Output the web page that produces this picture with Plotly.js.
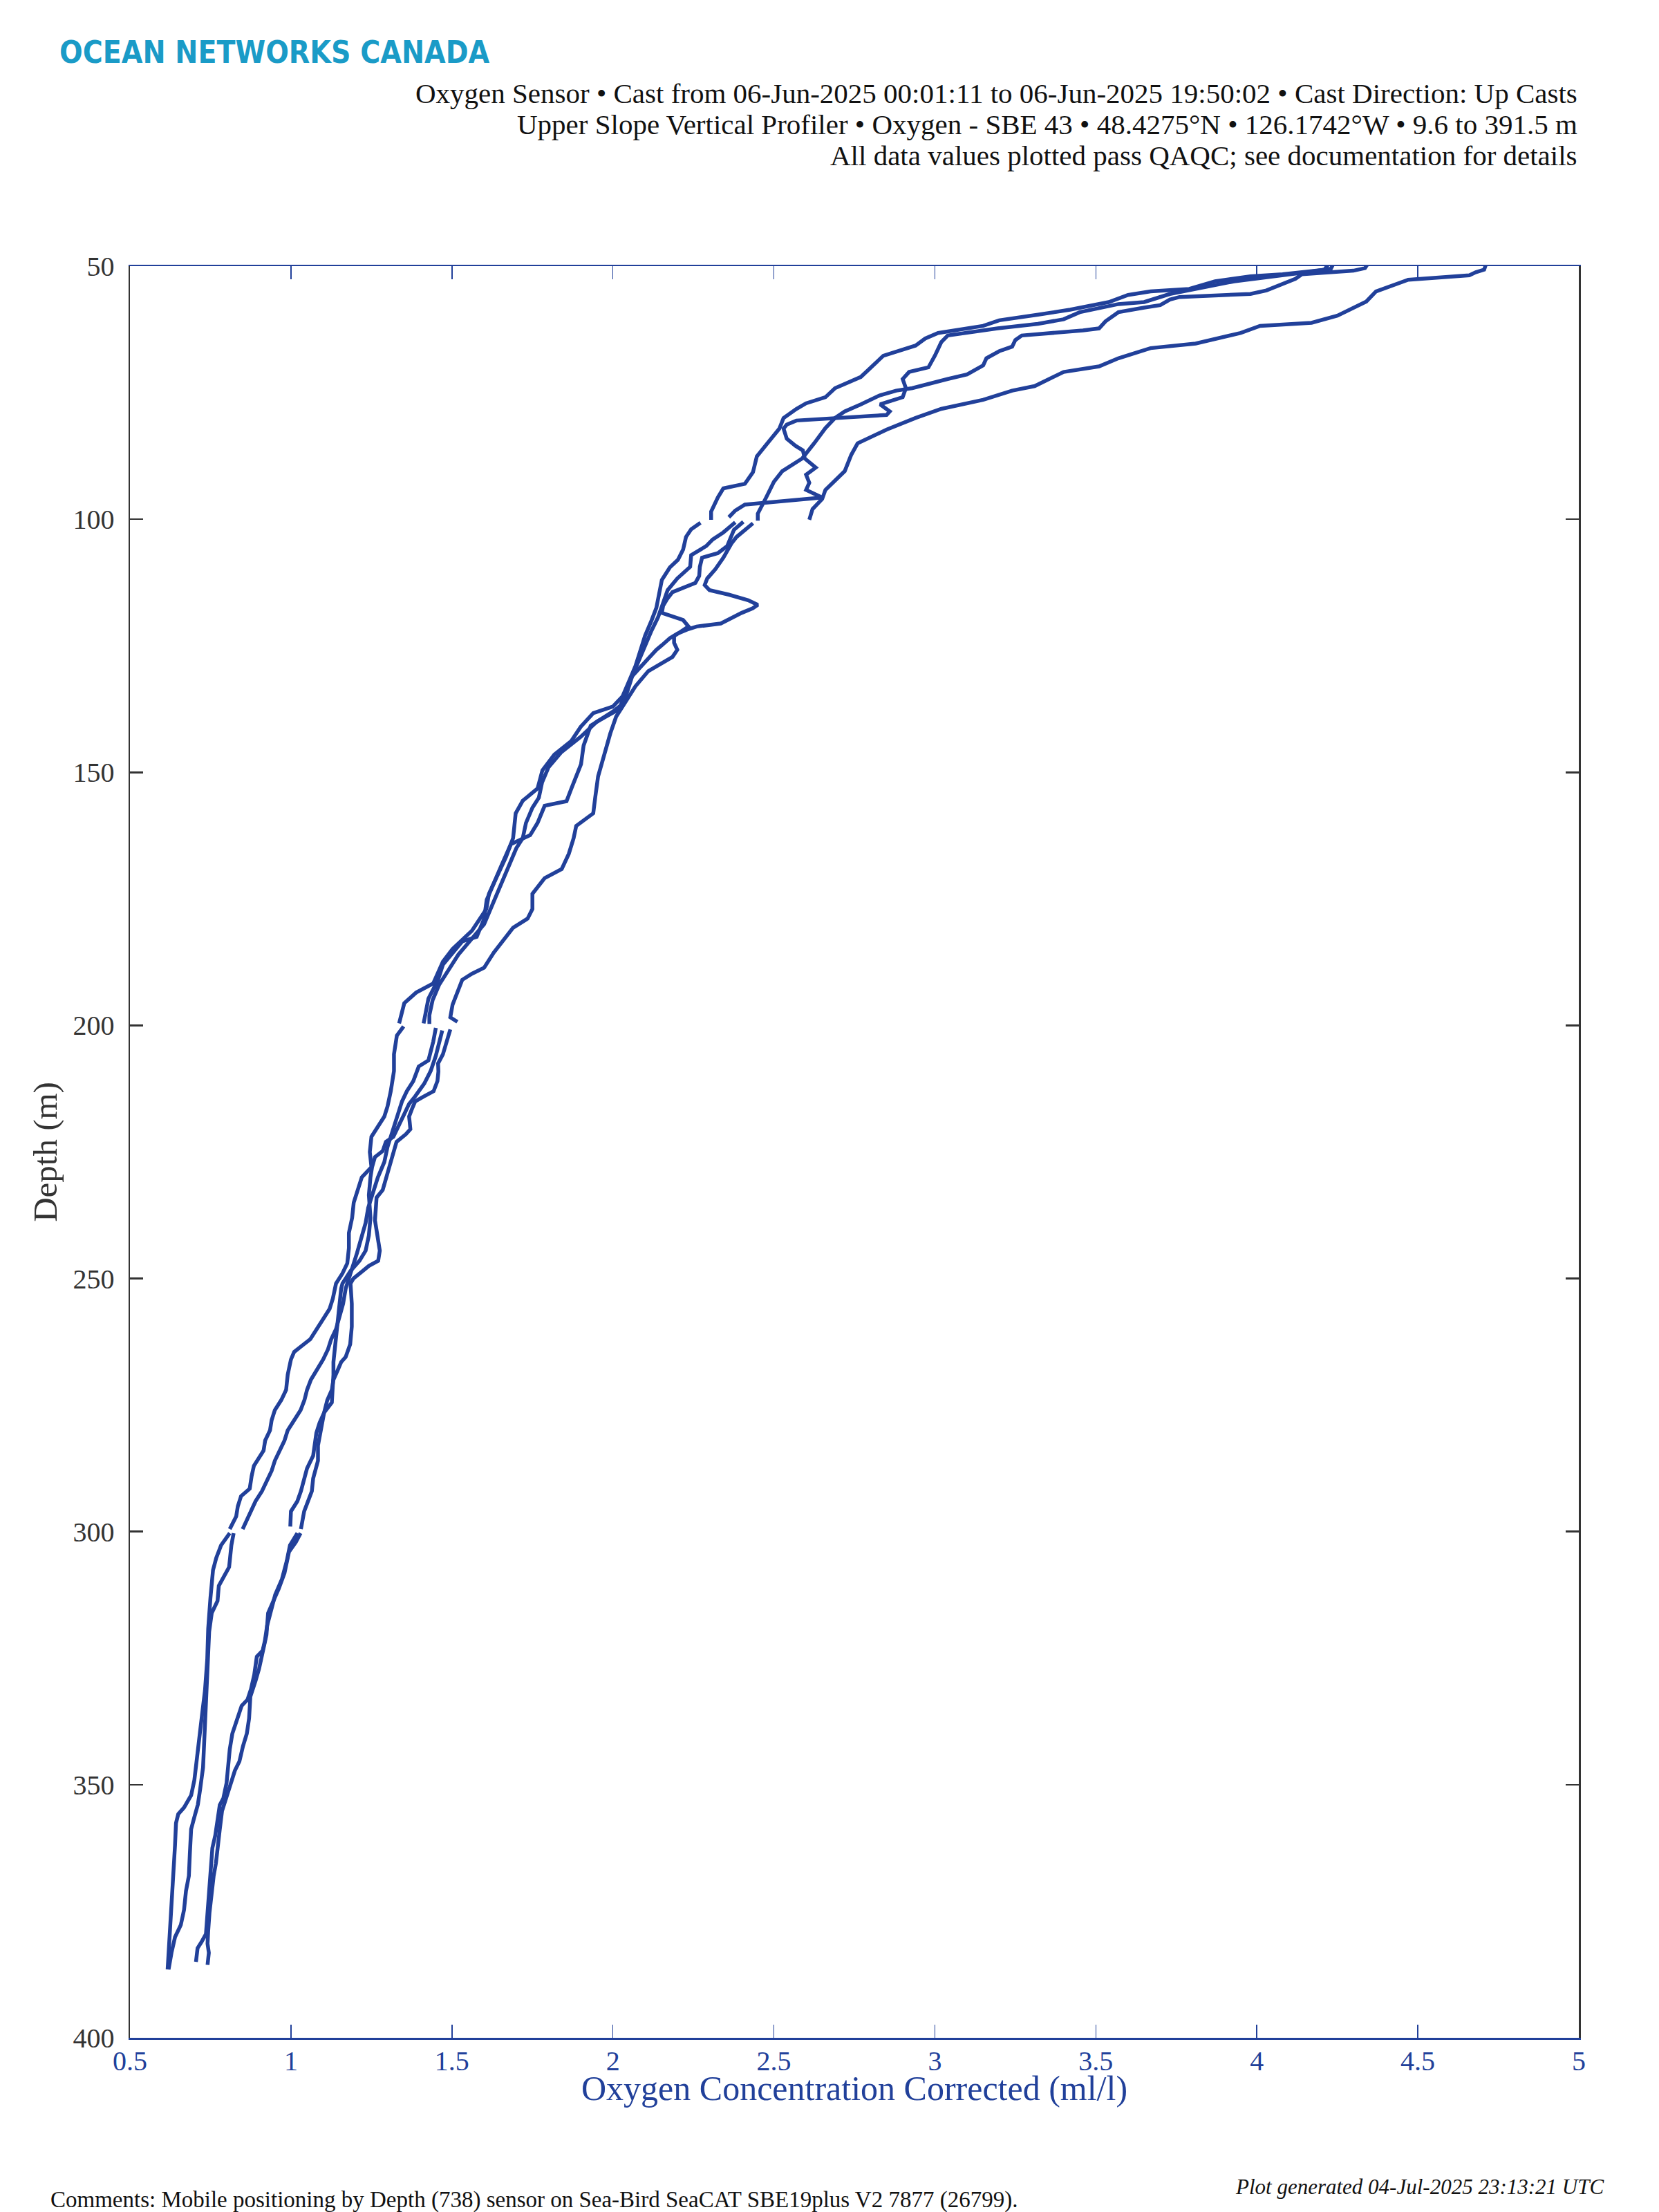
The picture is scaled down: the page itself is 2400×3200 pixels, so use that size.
<!DOCTYPE html>
<html>
<head>
<meta charset="utf-8">
<script src="https://cdn.plot.ly/plotly-3.0.1.min.js"></script>
<style>
  html, body { margin: 0; padding: 0; background: #ffffff; }
  #chart { width: 2400px; height: 3200px; }
</style>
</head>
<body>
<div id="chart"></div>
<script>
// ---------------- DATA ----------------
// Each up-cast is stored in four depth segments (50-100, 100-200, 200-300, 300-390 m).
// Depth in metres, oxygen in ml/l.

// Cast 1
const cast1SegADepth = [48, 50.7, 51.2, 51.8, 52.7, 53.2, 55, 57, 59.8, 61.2, 61.8, 63.2, 65.3, 66.2, 68.2, 69.8, 70.9, 73.7, 74.6, 76.4, 78.2, 80, 82.3, 85, 87.3, 90.5, 92.8, 94.2, 96, 98, 100.1];
const cast1SegAOxy   = [4.72, 4.706, 4.68, 4.66, 4.47, 4.45, 4.37, 4.34, 4.25, 4.17, 4.01, 3.95, 3.81, 3.67, 3.57, 3.51, 3.40, 3.31, 3.24, 3.15, 3.02, 2.94, 2.85, 2.76, 2.74, 2.72, 2.68, 2.66, 2.65, 2.62, 2.61];
const cast1SegBDepth = [100.8, 102.1, 103.5, 104.8, 107.6, 109.9, 111.7, 113, 114, 114.9, 116, 116.9, 117.6, 118.5, 119.9, 120.6, 121.2, 121.7, 122.6, 123.5, 124.9, 125.8, 127.5, 129.5, 131, 133, 135, 137.5, 140, 143, 146, 149, 152, 155, 157, 160, 163, 165, 168, 171, 174, 177, 180, 183, 186, 189, 192, 195, 198, 199.7];
const cast1SegBOxy   = [2.435, 2.41, 2.384, 2.368, 2.343, 2.318, 2.293, 2.285, 2.30, 2.36, 2.42, 2.45, 2.434, 2.40, 2.36, 2.335, 2.26, 2.235, 2.2, 2.177, 2.152, 2.135, 2.11, 2.08, 2.06, 2.045, 2.035, 2.02, 1.95, 1.90, 1.84, 1.80, 1.78, 1.77, 1.75, 1.73, 1.72, 1.70, 1.68, 1.66, 1.64, 1.62, 1.60, 1.56, 1.52, 1.49, 1.46, 1.44, 1.43, 1.43];
const cast1SegCDepth = [200.8, 203.8, 205.7, 207.5, 209.1, 211, 213, 214, 215, 216.5, 218, 220.5, 221.5, 223, 225, 228, 230, 232.5, 234, 238.5, 240.5, 244.5, 246.5, 247.5, 248.5, 250, 251, 255, 259.5, 263, 265.5, 266.5, 268, 270, 272, 274, 276.5, 279.5, 283, 286, 289.5, 292, 294.5, 296, 299.5];
const cast1SegCOxy   = [1.495, 1.48, 1.472, 1.457, 1.458, 1.455, 1.443, 1.414, 1.386, 1.376, 1.367, 1.371, 1.357, 1.328, 1.319, 1.304, 1.295, 1.285, 1.266, 1.261, 1.266, 1.276, 1.271, 1.242, 1.223, 1.194, 1.185, 1.189, 1.189, 1.184, 1.17, 1.156, 1.146, 1.132, 1.127, 1.113, 1.103, 1.093, 1.084, 1.084, 1.069, 1.065, 1.05, 1.041, 1.031];
const cast1SegDDepth = [300.3, 302.7, 305.8, 309.4, 312.5, 316.1, 318.6, 321.6, 323.5, 324.7, 328.3, 331.1, 333.2, 334.4, 336.9, 339.9, 343, 346.6, 349.7, 352.7, 354, 357, 360, 362.5, 366.7, 371, 375.9, 379.5, 381.1, 382.3, 385];
const cast1SegDOxy   = [1.02, 0.997, 0.987, 0.972, 0.951, 0.937, 0.926, 0.919, 0.912, 0.894, 0.886, 0.876, 0.865, 0.847, 0.835, 0.818, 0.81, 0.804, 0.80, 0.79, 0.779, 0.772, 0.765, 0.756, 0.751, 0.747, 0.741, 0.736, 0.722, 0.71, 0.705];

// Cast 2
const cast2SegADepth = [48, 50.4, 50.9, 51.6, 52.5, 53.6, 54.8, 55.5, 55.7, 56.1, 56.6, 57.7, 58.2, 59.1, 60.9, 62.3, 62.7, 63.2, 63.7, 64.6, 65.9, 66.8, 68.2, 69.6, 71.4, 72.3, 73.2, 74.1, 74.6, 75.5, 77.3, 78.7, 80, 82, 85, 88, 90.5, 92.6, 95.7, 98.9, 100.3];
const cast2SegAOxy   = [4.36, 4.336, 4.30, 4.14, 4.12, 4.08, 4.03, 3.98, 3.90, 3.76, 3.73, 3.70, 3.65, 3.57, 3.53, 3.51, 3.46, 3.38, 3.27, 3.25, 3.24, 3.20, 3.16, 3.15, 3.10, 3.04, 2.99, 2.93, 2.88, 2.83, 2.77, 2.72, 2.69, 2.66, 2.625, 2.588, 2.526, 2.50, 2.476, 2.45, 2.45];
const cast2SegBDepth = [100.5, 102.1, 103.9, 105.3, 106.7, 107.6, 109.4, 111.2, 112.6, 113.5, 114.4, 115.8, 117.1, 118.5, 119.9, 121.2, 123.1, 124.4, 125.8, 127.2, 128.5, 130, 133, 136.8, 139, 142.3, 145.9, 150.8, 155, 158.1, 160.6, 163, 166.1, 169.1, 170.9, 174, 177, 178.9, 180.7, 183.1, 185.6, 188.6, 189.8, 191, 193.5, 195.9, 198.4, 199.3];
const cast2SegBOxy   = [2.405, 2.376, 2.364, 2.355, 2.326, 2.277, 2.27, 2.268, 2.256, 2.218, 2.185, 2.168, 2.156, 2.152, 2.218, 2.235, 2.19, 2.19, 2.2, 2.185, 2.152, 2.11, 2.07, 2.03, 2.01, 1.992, 1.976, 1.954, 1.945, 1.939, 1.886, 1.878, 1.863, 1.841, 1.788, 1.75, 1.75, 1.735, 1.69, 1.66, 1.63, 1.60, 1.562, 1.532, 1.517, 1.502, 1.495, 1.517];
const cast2SegCDepth = [201, 203.5, 206, 209, 211.5, 214, 215.5, 217.5, 219.5, 222, 223, 224.8, 226, 228, 230, 233.5, 238, 241.5, 244.5, 246.5, 248.5, 249.5, 251, 252, 255, 259, 263.5, 266.5, 269, 272.5, 274.5, 276.5, 278.5, 280.5, 283, 285, 287.5, 290, 292, 294, 296, 299];
const cast2SegCOxy   = [1.47, 1.46, 1.45, 1.434, 1.414, 1.386, 1.367, 1.352, 1.338, 1.318, 1.295, 1.285, 1.261, 1.252, 1.247, 1.242, 1.247, 1.242, 1.232, 1.213, 1.185, 1.175, 1.16, 1.156, 1.151, 1.146, 1.137, 1.132, 1.132, 1.127, 1.127, 1.103, 1.089, 1.079, 1.074, 1.069, 1.05, 1.04, 1.031, 1.02, 1.0, 0.998];
const cast2SegDDepth = [300.3, 302.1, 304, 308.2, 311.3, 314, 316.1, 320.4, 324.1, 327.1, 329.5, 332.6, 336.9, 339.9, 342.4, 345.4, 347.2, 349.4, 352.1, 355.2, 358.8, 362.5, 365.5, 368, 371.6, 375.3, 378.9, 381.4, 383.2, 385.6];
const cast2SegDOxy   = [1.03, 1.015, 0.994, 0.98, 0.962, 0.944, 0.929, 0.924, 0.912, 0.901, 0.89, 0.874, 0.87, 0.863, 0.851, 0.84, 0.826, 0.815, 0.80, 0.786, 0.779, 0.774, 0.767, 0.76, 0.753, 0.747, 0.743, 0.741, 0.745, 0.741];

// Cast 3
const cast3SegADepth = [48, 50.7, 51.6, 52, 53, 53.9, 54.5, 55, 55.7, 57.1, 57.7, 58.6, 59.6, 60.7, 61.8, 63.2, 64.3, 65.7, 67.7, 69.6, 71.9, 74.1, 75.9, 77.1, 78.2, 80, 82.1, 85.3, 87.6, 90.7, 93, 93.9, 95.7, 98.5, 100.1];
const cast3SegAOxy   = [4.24, 4.21, 4.08, 3.98, 3.87, 3.82, 3.79, 3.67, 3.60, 3.54, 3.49, 3.42, 3.32, 3.20, 3.15, 3.01, 2.97, 2.94, 2.84, 2.81, 2.77, 2.69, 2.66, 2.60, 2.57, 2.53, 2.517, 2.476, 2.447, 2.435, 2.41, 2.343, 2.326, 2.305, 2.305];
const cast3SegBDepth = [100.6, 102.6, 104, 105.3, 107.1, 109.4, 111.7, 114, 115.8, 117.6, 119.4, 122, 125, 128, 131, 134, 136.5, 138, 140.8, 144.7, 148.4, 153.2, 155.7, 156.6, 160, 162.4, 164.2, 168.5, 172.1, 175.2, 178.9, 182.5, 183.4, 186.2, 188, 191, 194.7, 199.6];
const cast3SegBOxy   = [2.38, 2.343, 2.31, 2.29, 2.243, 2.24, 2.2, 2.17, 2.16, 2.15, 2.14, 2.12, 2.10, 2.08, 2.06, 2.045, 2.03, 2.0, 1.931, 1.909, 1.901, 1.871, 1.856, 1.788, 1.766, 1.743, 1.683, 1.653, 1.63, 1.608, 1.60, 1.577, 1.532, 1.495, 1.472, 1.457, 1.427, 1.412];
const cast3SegCDepth = [200.5, 203.2, 206.9, 208.1, 211, 213, 215, 218, 221, 224, 227, 230, 233, 236, 239, 242, 245, 248, 250, 252, 255, 258, 260, 262, 264, 266, 268, 270, 272, 274, 276, 278, 280, 282, 284, 286, 288, 290, 292, 294, 296, 298, 299.5];
const cast3SegCOxy   = [1.45, 1.442, 1.427, 1.397, 1.38, 1.36, 1.345, 1.33, 1.315, 1.30, 1.29, 1.27, 1.255, 1.24, 1.232, 1.22, 1.205, 1.19, 1.18, 1.17, 1.162, 1.15, 1.14, 1.125, 1.115, 1.10, 1.08, 1.062, 1.05, 1.042, 1.03, 1.01, 0.99, 0.98, 0.965, 0.95, 0.94, 0.925, 0.91, 0.89, 0.875, 0.86, 0.85];
const cast3SegDDepth = [300.3, 302.7, 307, 310.7, 313.7, 316.1, 319.8, 327.1, 334.4, 340.5, 346.6, 350.9, 353.9, 356.4, 358.8, 363.7, 368, 371, 374.7, 377.7, 380.1, 383.2, 386.5];
const cast3SegDOxy   = [0.822, 0.815, 0.808, 0.776, 0.772, 0.754, 0.746, 0.741, 0.736, 0.731, 0.727, 0.718, 0.711, 0.70, 0.69, 0.686, 0.683, 0.674, 0.668, 0.658, 0.64, 0.629, 0.62];

// Cast 4
const cast4SegADepth = [48, 50.5, 51, 52, 53, 54.3, 55.5, 57.1, 57.5, 59.1, 60.5, 61.4, 62.3, 63.7, 65, 67.7, 70, 70.9, 72.3, 74.1, 75.9, 77.3, 78.7, 79.4, 80.5, 81.3, 82.1, 84.1, 85.5, 86.4, 88, 89.8, 91.2, 92.8, 94.2, 95.7, 96.6, 97.1, 98.3, 99.6];
const cast4SegAOxy   = [4.25, 4.23, 4.18, 4.05, 3.93, 3.825, 3.73, 3.65, 3.57, 3.45, 3.40, 3.32, 3.195, 3.04, 3.02, 3.0, 2.98, 2.92, 2.90, 2.91, 2.90, 2.83, 2.86, 2.85, 2.57, 2.54, 2.53, 2.54, 2.567, 2.59, 2.596, 2.63, 2.60, 2.61, 2.60, 2.65, 2.48, 2.41, 2.38, 2.36];
const cast4SegBDepth = [100.7, 102, 103.5, 106, 108, 109.5, 112, 115, 117.5, 120, 123, 126, 129, 132, 135, 137, 138.3, 141, 143.8, 146.5, 149.6, 153.2, 155.6, 158.1, 163, 166.7, 170.9, 174, 177, 181.3, 184.9, 187.4, 191.7, 193.5, 195.6, 199.6];
const cast4SegBOxy   = [2.272, 2.243, 2.227, 2.218, 2.202, 2.177, 2.152, 2.144, 2.135, 2.12, 2.10, 2.085, 2.07, 2.05, 2.03, 2.0, 1.939, 1.90, 1.871, 1.818, 1.781, 1.766, 1.72, 1.698, 1.69, 1.668, 1.638, 1.615, 1.607, 1.562, 1.502, 1.472, 1.442, 1.389, 1.352, 1.336];
const cast4SegCDepth = [200.2, 202, 205.7, 209, 213, 216, 218, 220, 222, 225, 228, 230, 232, 235, 238, 241, 244, 247, 249, 251, 254, 256, 258, 260, 262, 263.5, 264.5, 266, 269, 272, 274, 276, 278, 280, 282, 284, 285.5, 287, 289, 291.5, 293, 295, 297, 299.5];
const cast4SegCOxy   = [1.35, 1.329, 1.32, 1.32, 1.31, 1.30, 1.29, 1.27, 1.25, 1.245, 1.25, 1.22, 1.21, 1.195, 1.19, 1.18, 1.18, 1.175, 1.16, 1.14, 1.13, 1.12, 1.10, 1.08, 1.06, 1.03, 1.01, 1.0, 0.99, 0.985, 0.97, 0.95, 0.94, 0.935, 0.92, 0.915, 0.90, 0.885, 0.878, 0.872, 0.845, 0.835, 0.83, 0.81];
const cast4SegDDepth = [300.3, 301.5, 302.7, 305.2, 307.6, 313.1, 319.2, 325.3, 331.4, 335.6, 340.5, 344.8, 349.1, 352.1, 354.5, 355.8, 357.6, 361.9, 366.1, 369.8, 374.7, 378.9, 383.2, 386.5];
const cast4SegDOxy   = [0.81, 0.797, 0.783, 0.768, 0.758, 0.75, 0.743, 0.74, 0.733, 0.725, 0.715, 0.708, 0.70, 0.69, 0.668, 0.65, 0.643, 0.64, 0.636, 0.633, 0.629, 0.625, 0.622, 0.617];

// Axis ticks
const xTickValues = [0.5, 1, 1.5, 2, 2.5, 3, 3.5, 4, 4.5, 5];
const xTickLabels = ["0.5", "1", "1.5", "2", "2.5", "3", "3.5", "4", "4.5", "5"];
const yTickValues = [50, 100, 150, 200, 250, 300, 350, 400];
const yTickLabels = ["50", "100", "150", "200", "250", "300", "350", "400"];

// ---------------- BUILD ----------------
const LINE_COLOR = '#21409A';
const AXIS_BLUE = '#21409A';
const AXIS_GREY = '#333333';
const SERIF = 'Liberation Serif, Times New Roman, serif';

function joinSegments(segs) {
  const x = [], y = [];
  segs.forEach((s, i) => {
    if (i > 0) { x.push(null); y.push(null); }
    for (let k = 0; k < s[0].length; k++) { y.push(s[0][k]); x.push(s[1][k]); }
  });
  return {x, y};
}

const casts = [
  [[cast1SegADepth, cast1SegAOxy], [cast1SegBDepth, cast1SegBOxy], [cast1SegCDepth, cast1SegCOxy], [cast1SegDDepth, cast1SegDOxy]],
  [[cast2SegADepth, cast2SegAOxy], [cast2SegBDepth, cast2SegBOxy], [cast2SegCDepth, cast2SegCOxy], [cast2SegDDepth, cast2SegDOxy]],
  [[cast3SegADepth, cast3SegAOxy], [cast3SegBDepth, cast3SegBOxy], [cast3SegCDepth, cast3SegCOxy], [cast3SegDDepth, cast3SegDOxy]],
  [[cast4SegADepth, cast4SegAOxy], [cast4SegBDepth, cast4SegBOxy], [cast4SegCDepth, cast4SegCOxy], [cast4SegDDepth, cast4SegDOxy]]
];

const traces = casts.map((c, i) => {
  const j = joinSegments(c);
  return {
    type: 'scatter', mode: 'lines',
    x: j.x, y: j.y,
    connectgaps: false,
    line: {color: LINE_COLOR, width: 5.5, shape: 'linear'},
    name: 'Cast ' + (i + 1),
    hoverinfo: 'skip'
  };
});

const layout = {
  width: 2400, height: 3200,
  paper_bgcolor: '#ffffff', plot_bgcolor: '#ffffff',
  showlegend: false,
  margin: {l: 188, r: 116, t: 385, b: 252, pad: 0},
  font: {family: SERIF, size: 40, color: AXIS_GREY},
  xaxis: {
    range: [0.5, 5], autorange: false,
    tickmode: 'array', tickvals: xTickValues, ticktext: xTickLabels,
    ticks: 'inside', ticklen: 19, tickwidth: 1.5, tickcolor: AXIS_BLUE,
    showline: true, linecolor: AXIS_BLUE, linewidth: 2.5, mirror: 'ticks',
    showgrid: false, zeroline: false,
    tickfont: {family: SERIF, size: 40, color: AXIS_BLUE},
    ticklabelstandoff: -4
  },
  yaxis: {
    range: [400, 50], autorange: false,
    tickmode: 'array', tickvals: yTickValues, ticktext: yTickLabels,
    ticks: 'inside', ticklen: 19, tickwidth: 2.5, tickcolor: AXIS_GREY,
    showline: true, linecolor: AXIS_GREY, linewidth: 2.5, mirror: 'ticks',
    showgrid: false, zeroline: false,
    tickfont: {family: SERIF, size: 40, color: AXIS_GREY},
    ticklabelstandoff: 12,
    title: {text: 'Depth (m)', font: {family: SERIF, size: 49, color: AXIS_GREY}, standoff: 8}
  },
  annotations: [
    {text: '<b>OCEAN NETWORKS CANADA</b>', xref: 'paper', yref: 'paper', x: -0.0496, y: 1.1208,
     xanchor: 'left', yanchor: 'middle', showarrow: false,
     font: {family: 'DejaVu Sans Condensed, DejaVu Sans, sans-serif', size: 44, color: '#1A9BC7'}},
    {text: 'Oxygen Sensor \u2022 Cast from 06-Jun-2025 00:01:11 to 06-Jun-2025 19:50:02 \u2022 Cast Direction: Up Casts',
     xref: 'paper', yref: 'paper', x: 1, y: 1.0975, xanchor: 'right', yanchor: 'middle', showarrow: false,
     font: {family: SERIF, size: 41, color: '#111111'}},
    {text: 'Upper Slope Vertical Profiler \u2022 Oxygen - SBE 43 \u2022 48.4275\u00b0N \u2022 126.1742\u00b0W \u2022 9.6 to 391.5 m',
     xref: 'paper', yref: 'paper', x: 1, y: 1.0800, xanchor: 'right', yanchor: 'middle', showarrow: false,
     font: {family: SERIF, size: 41, color: '#111111'}},
    {text: 'All data values plotted pass QAQC; see documentation for details',
     xref: 'paper', yref: 'paper', x: 1, y: 1.0626, xanchor: 'right', yanchor: 'middle', showarrow: false,
     font: {family: SERIF, size: 41, color: '#111111'}},
    {text: 'Oxygen Concentration Corrected (ml/l)',
     xref: 'paper', yref: 'paper', x: 0.5, y: -0.0285, xanchor: 'center', yanchor: 'middle', showarrow: false,
     font: {family: SERIF, size: 50, color: AXIS_BLUE}},
    {text: 'Comments: Mobile positioning by Depth (738) sensor on Sea-Bird SeaCAT SBE19plus V2 7877 (26799).',
     xref: 'paper', yref: 'paper', x: -0.0558, y: -0.0913, xanchor: 'left', yanchor: 'middle', showarrow: false,
     font: {family: SERIF, size: 33, color: '#111111'}},
    {text: '<i>Plot generated 04-Jul-2025 23:13:21 UTC</i>',
     xref: 'paper', yref: 'paper', x: 1.0181, y: -0.0839, xanchor: 'right', yanchor: 'middle', showarrow: false,
     font: {family: SERIF, size: 31, color: '#111111'}}
  ]
};

Plotly.newPlot('chart', traces, layout, {staticPlot: true, displayModeBar: false});
</script>
</body>
</html>
